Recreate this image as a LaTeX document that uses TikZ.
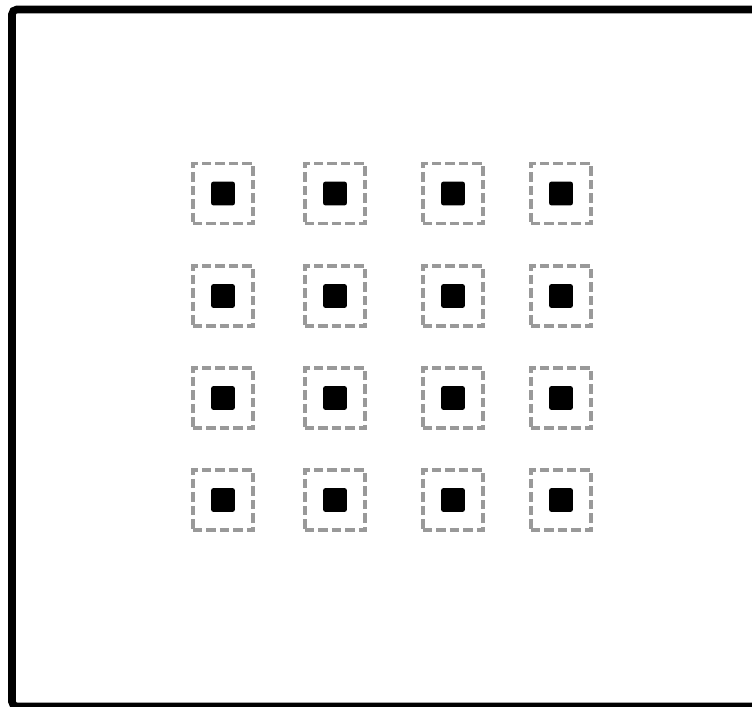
\documentclass[tikz,border=0pt]{standalone}
\usetikzlibrary{positioning}
\begin{document}
\begin{tikzpicture}[
    x=0.025cm, y=-0.025cm,
    frame/.style={draw, line width=0.19cm, rounded corners=0.12cm},
    cell/.style={draw=gray!80, dash pattern=on 6.6pt off 3pt, line width=0.08cm, minimum size=1.5cm, inner sep=0pt},
    dot/.style={fill=black, rounded corners=0.05cm, minimum size=0.59cm, inner sep=0pt}
]
\useasboundingbox (0,0) rectangle (752,706);
\clip (0,0) rectangle (752,706);
\draw[frame] (12,9.5) rectangle (800,706.5);
% 4 x 4 grid of cells
\foreach \x [count=\i] in {223,335,453,561}
  \foreach \y [count=\j] in {193.5,296,398,500} {
    \node[cell] (cell\j\i) at (\x,\y) {};
    \node[dot] (dot\j\i) at (cell\j\i.center) {};
  }
\end{tikzpicture}
\end{document}
